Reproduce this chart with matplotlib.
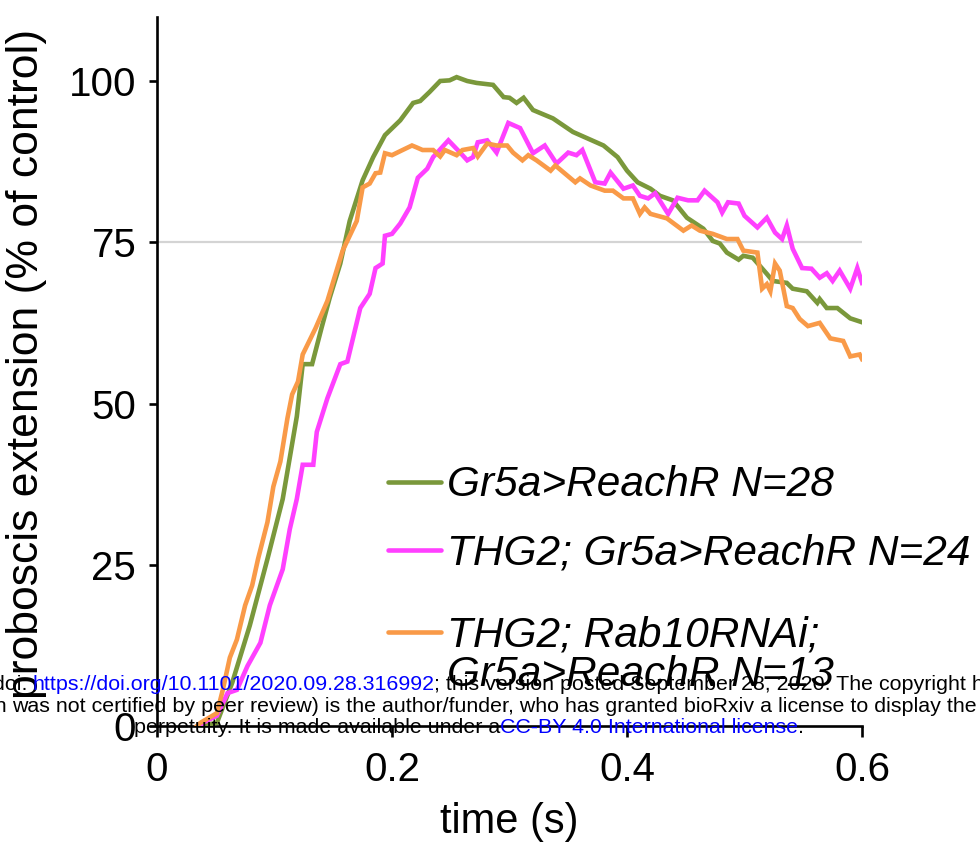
import matplotlib
matplotlib.use("Agg")
import matplotlib.pyplot as plt
from matplotlib.lines import Line2D

plt.rcParams['font.family'] = ['Liberation Sans', 'DejaVu Sans']

# ---------------- data (time in s, % of control) ----------------
green_t = [0.037, 0.051, 0.064, 0.079, 0.094, 0.107, 0.119, 0.124, 0.132, 0.140,
           0.147, 0.156, 0.164, 0.175, 0.184, 0.194, 0.207, 0.218, 0.224, 0.232,
           0.241, 0.249, 0.255, 0.264, 0.272, 0.286, 0.295, 0.300, 0.306, 0.312,
           0.320, 0.337, 0.354, 0.380, 0.392, 0.400, 0.409, 0.420, 0.428, 0.439,
           0.451, 0.465, 0.473, 0.479, 0.485, 0.495, 0.499, 0.507, 0.519, 0.524,
           0.536, 0.541, 0.553, 0.562, 0.564, 0.570, 0.579, 0.590, 0.600]
green_v = [0, 0.5, 6.7, 15.6, 25.9, 35.2, 48.0, 56.1, 56.1, 61.7,
           66.4, 71.7, 78.3, 84.6, 88.2, 91.6, 93.9, 96.6, 96.9, 98.3,
           100.0, 100.1, 100.6, 100.0, 99.7, 99.4, 97.5, 97.4, 96.6, 97.4,
           95.5, 94.2, 92.1, 90.0, 88.2, 86.1, 84.3, 83.3, 82.2, 81.5,
           78.8, 77.1, 75.2, 74.8, 73.4, 72.3, 72.9, 72.6, 70.1, 69.0,
           68.7, 67.8, 67.4, 65.6, 66.2, 64.8, 64.8, 63.2, 62.6]

magenta_t = [0.037, 0.039, 0.051, 0.060, 0.068, 0.077, 0.088, 0.096, 0.107, 0.113,
             0.119, 0.124, 0.133, 0.136, 0.145, 0.156, 0.162, 0.173, 0.181, 0.186,
             0.192, 0.194, 0.200, 0.207, 0.215, 0.222, 0.230, 0.235, 0.248, 0.258,
             0.264, 0.269, 0.273, 0.281, 0.289, 0.299, 0.309, 0.320, 0.330, 0.340,
             0.350, 0.357, 0.362, 0.373, 0.381, 0.386, 0.397, 0.405, 0.411, 0.418,
             0.424, 0.435, 0.443, 0.452, 0.460, 0.466, 0.477, 0.481, 0.486, 0.495,
             0.500, 0.511, 0.519, 0.526, 0.532, 0.536, 0.541, 0.549, 0.557, 0.564,
             0.570, 0.575, 0.581, 0.590, 0.596, 0.600]
magenta_v = [0, 0.5, 1.6, 5.1, 5.6, 9.3, 12.9, 18.7, 24.3, 30.5,
             35.2, 40.5, 40.5, 45.6, 50.8, 56.1, 56.5, 64.8, 67.0, 71.0,
             71.7, 76.0, 76.3, 77.9, 80.4, 85.0, 86.4, 88.2, 90.8, 88.9,
             87.7, 88.2, 90.5, 90.8, 88.9, 93.5, 92.7, 88.8, 90.0, 87.2,
             88.9, 88.5, 89.3, 84.3, 84.1, 85.8, 83.3, 83.8, 82.2, 81.8,
             82.6, 79.4, 81.9, 81.5, 81.5, 83.0, 81.2, 79.6, 81.2, 81.0,
             79.1, 77.3, 78.8, 76.5, 75.5, 77.6, 74.0, 71.0, 70.9, 69.5,
             70.2, 69.0, 70.6, 67.8, 71.0, 68.7]

orange_t = [0.034, 0.037, 0.051, 0.056, 0.062, 0.068, 0.075, 0.081, 0.086, 0.094,
            0.099, 0.105, 0.111, 0.115, 0.120, 0.124, 0.135, 0.145, 0.152, 0.158,
            0.170, 0.175, 0.181, 0.186, 0.190, 0.194, 0.200, 0.209, 0.217, 0.221,
            0.226, 0.235, 0.241, 0.245, 0.255, 0.260, 0.269, 0.273, 0.281, 0.289,
            0.298, 0.303, 0.311, 0.316, 0.323, 0.335, 0.339, 0.356, 0.360, 0.369,
            0.381, 0.388, 0.397, 0.405, 0.411, 0.415, 0.420, 0.434, 0.448, 0.455,
            0.462, 0.473, 0.485, 0.494, 0.499, 0.511, 0.515, 0.519, 0.522, 0.526,
            0.530, 0.536, 0.541, 0.547, 0.554, 0.564, 0.573, 0.584, 0.590, 0.598,
            0.600]
orange_v = [0, 0.5, 2.0, 5.6, 10.6, 13.4, 18.7, 21.8, 25.9, 31.6,
            37.1, 41.0, 47.7, 51.4, 53.4, 57.6, 61.7, 65.9, 70.1, 73.7,
            78.3, 83.5, 84.1, 85.7, 85.8, 88.8, 88.5, 89.3, 90.0, 89.7,
            89.3, 89.3, 88.3, 89.3, 88.5, 89.3, 89.6, 88.3, 90.3, 90.0,
            90.0, 88.9, 87.7, 88.5, 87.7, 86.1, 86.9, 84.3, 84.9, 83.8,
            83.0, 83.0, 81.8, 81.8, 79.4, 80.4, 79.4, 78.7, 76.8, 77.6,
            76.8, 76.3, 75.5, 75.5, 73.7, 73.4, 67.8, 68.5, 67.4, 71.7,
            70.6, 65.1, 64.8, 63.1, 62.0, 62.5, 60.1, 59.7, 57.3, 57.6,
            56.9]

series_labels = ["Gr5a>ReachR N=28",
                 "THG2; Gr5a>ReachR N=24",
                 "THG2; Rab10RNAi;\nGr5a>ReachR N=13"]
series_colors = ["#7a983b", "#ff40ff", "#f99a48"]

x_ticks = [0, 0.2, 0.4, 0.6]
x_ticklabels = ["0", "0.2", "0.4", "0.6"]
y_ticks = [0, 25, 50, 75, 100]
reference_level = 75

# ---------------- figure ----------------
W, H = 980, 847
fig = plt.figure(figsize=(W / 100, H / 100), dpi=100)


def fx(px):
    return px / W


def fy(py):
    return 1 - py / H


ax = fig.add_axes([fx(157), fy(726), fx(862) - fx(157), fy(16.5) - fy(726)])
ax.set_xlim(0, 0.6)
ax.set_ylim(0, 110)

ax.axhline(reference_level, color="#d4d4d4", lw=1.6, zorder=1)

LW = 3.3
lines = []
for t, v, c in zip([green_t, magenta_t, orange_t],
                   [green_v, magenta_v, orange_v], series_colors):
    ln, = ax.plot(t, v, color=c, lw=LW, solid_joinstyle="miter", zorder=3)
    lines.append(ln)

for s in ["top", "right"]:
    ax.spines[s].set_visible(False)
for s in ["left", "bottom"]:
    ax.spines[s].set_linewidth(1.9)
ax.tick_params(axis="y", length=6, width=1.9, labelsize=29, pad=9)
ax.tick_params(axis="x", length=8, width=1.9, labelsize=29, pad=10)
ax.set_xticks(x_ticks)
ax.set_xticklabels(x_ticklabels)
ax.set_yticks(y_ticks)

ax.set_xlabel("time (s)", fontsize=30, labelpad=9)
fig.text(fx(27), fy(364), "proboscis extension (% of control)", rotation=90,
         ha="center", va="center", fontsize=32)

# ---------------- legend (manual placement) ----------------
handle_y = [482, 550, 632]
for ln, lab, hy in zip(lines, series_labels, handle_y):
    fig.add_artist(Line2D([fx(388), fx(441)], [fy(hy), fy(hy)],
                          color=ln.get_color(), lw=LW, solid_capstyle="round"))
    for i, part in enumerate(lab.split("\n")):
        fig.text(fx(447), fy(hy + 14 + 40 * i), part, fontsize=30.5,
                 style="italic", ha="left", va="baseline")

# ---------------- bioRxiv header overlay ----------------
fig.canvas.draw()
renderer = fig.canvas.get_renderer()
wm_fs = 15.4
blue = "#0000ff"


def seq(x_px, y_px, parts):
    x = x_px
    for txt, col in parts:
        tt = fig.text(fx(x), fy(y_px), txt, fontsize=wm_fs, color=col,
                      ha="left", va="baseline", zorder=10)
        bb = tt.get_window_extent(renderer)
        x = bb.x1


fig.text(fx(27), fy(690), "bioRxiv preprint doi:", fontsize=wm_fs, color="black",
         ha="right", va="baseline", zorder=10)
seq(32, 690, [("https://doi.org/10.1101/2020.09.28.316992", blue),
              ("; this version posted September 28, 2020. The copyright holder for this preprint", "black")])
fig.text(fx(7), fy(712), "(which", fontsize=wm_fs, color="black",
         ha="right", va="baseline", zorder=10)
fig.text(fx(12), fy(712),
         "was not certified by peer review) is the author/funder, who has granted bioRxiv a license to display the preprint in",
         fontsize=wm_fs, color="black", ha="left", va="baseline", zorder=10)
seq(134, 733, [("perpetuity. It is made available under a", "black"),
               ("CC-BY 4.0 International license", blue),
               (".", "black")])

fig.savefig("out.png", dpi=100)
